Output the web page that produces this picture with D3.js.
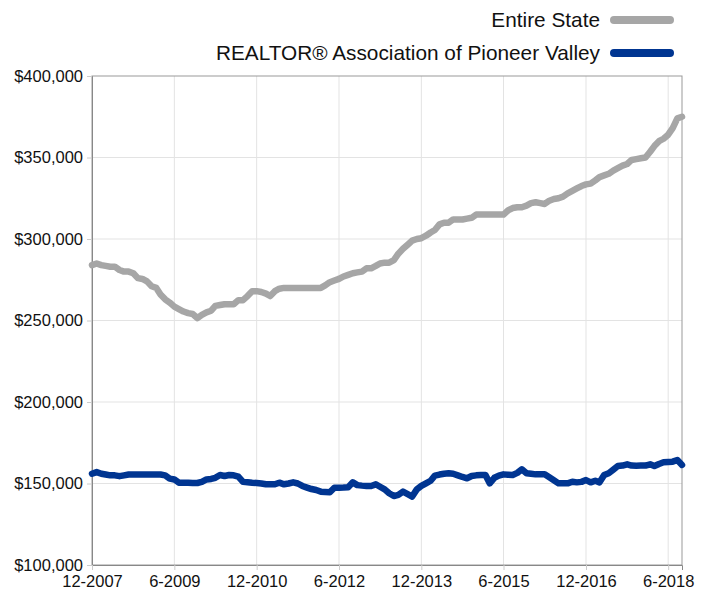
<!DOCTYPE html>
<html>
<head>
<meta charset="utf-8">
<script src="https://cdn.jsdelivr.net/npm/d3@7"></script>
<style>
  body { margin: 0; background: #fff; }
  text { font-family: "Liberation Sans", Arial, Helvetica, sans-serif; fill: #111; }
</style>
</head>
<body>
<svg id="chart" width="708" height="592"></svg>
<script>
// monthly median price, Dec 2007 .. Sep 2018
var seriesNames = ["Entire State", "REALTOR® Association of Pioneer Valley"];
var seriesColors = ["#a6a6a6", "#003591"];

var stateValues = [
  284000, 285000, 284000, 283500, 283000, 283000, 281000, 280000, 280000, 279000,
  276000, 275500, 274000, 271000, 270000, 266000, 263000, 261000, 258500, 257000,
  255500, 254500, 254000, 251500, 253500, 255000, 256000, 259000, 259500, 260000,
  260000, 260000, 262500, 262500, 265000, 268000, 268000, 267500, 266500, 265000,
  268000, 269500, 270000, 270000, 270000, 270000, 270000, 270000, 270000, 270000,
  270000, 271500, 273500, 274500, 275500, 277000, 278000, 279000, 279500, 280000,
  282000, 282000, 283500, 285000, 285500, 285500, 287000, 291000, 294000, 296500,
  299000, 300000, 300500, 302000, 304000, 305500, 309000, 310000, 310000, 312000,
  312000, 312000, 312500, 313000, 315000, 315000, 315000, 315000, 315000, 315000,
  315000, 317500, 319000, 319500, 319500, 320500, 322000, 322500, 322000, 321500,
  323500, 324500, 325000, 326000, 328000, 329500, 331000, 332500, 333500, 334000,
  336000, 338000, 339000, 340000, 342000, 343500, 345000, 346000, 348500, 349000,
  349500, 350000, 353500, 357000, 360000, 361500, 364000, 368000, 374000, 375000
];

var pioneerValues = [
  156000, 157000, 156000, 155500, 155000, 155000, 154500, 155000, 155500, 155500,
  155500, 155500, 155500, 155500, 155500, 155500, 155000, 153000, 152500, 150500,
  150500, 150500, 150300, 150300, 151000, 152500, 152800, 153500, 155200, 154600,
  155200, 155000, 154200, 151000, 150800, 150500, 150300, 150000, 149500, 149500,
  149500, 150500, 149500, 150000, 150700, 150000, 148500, 147500, 146600, 146000,
  145000, 144800, 144600, 147400, 147400, 147500, 147700, 150700, 149000, 148700,
  148500, 148500, 149500, 148000, 146400, 144000, 142300, 143000, 145000, 143500,
  142000, 146400, 148500, 150100, 151700, 154800, 155500, 156000, 156300, 156000,
  155000, 154000, 153200, 154600, 155000, 155200, 155200, 150100, 153500, 154800,
  155600, 155400, 155200, 156500, 158700, 156300, 156000, 155600, 155600, 155600,
  153800, 152000, 150100, 150100, 150100, 151100, 150700, 151000, 152100, 150700,
  151700, 150700, 155200, 156300, 158500, 160700, 161000, 161800, 161000, 160900,
  161000, 161000, 161800, 160700, 162000, 163000, 163200, 163400, 164400, 161400
];

var tickLabels = ["12-2007", "6-2009", "12-2010", "6-2012", "12-2013", "6-2015", "12-2016", "6-2018"];
var yTicks = [100000, 150000, 200000, 250000, 300000, 350000, 400000];

var margin = {left: 92, right: 26, top: 76, bottom: 27};
var width = 708, height = 592;

var svg = d3.select("#chart");

var startMonth = new Date(2007, 11, 1);
var months = d3.timeMonth.range(startMonth, d3.timeMonth.offset(startMonth, stateValues.length));
var tickDates = tickLabels.map(function(s) {
    var p = s.split("-");
    return new Date(+p[1], +p[0] - 1, 1);
});

var x = d3.scaleTime()
    .domain([months[0], months[months.length - 1]])
    .range([margin.left, width - margin.right]);
var y = d3.scaleLinear()
    .domain([100000, 400000])
    .range([height - margin.bottom, margin.top]);

// grid
svg.append("g").selectAll("line.vgrid")
    .data(tickDates.slice(1))
    .enter().append("line")
    .attr("x1", function(d) { return x(d); })
    .attr("x2", function(d) { return x(d); })
    .attr("y1", y(400000)).attr("y2", y(100000))
    .attr("stroke", "#e3e3e3").attr("stroke-width", 1);
svg.append("g").selectAll("line.hgrid")
    .data(yTicks.slice(1, -1))
    .enter().append("line")
    .attr("x1", x.range()[0]).attr("x2", x.range()[1])
    .attr("y1", function(d) { return y(d); })
    .attr("y2", function(d) { return y(d); })
    .attr("stroke", "#e3e3e3").attr("stroke-width", 1);

// frame
svg.append("rect")
    .attr("x", x.range()[0]).attr("y", y(400000))
    .attr("width", x.range()[1] - x.range()[0])
    .attr("height", y(100000) - y(400000))
    .attr("fill", "none").attr("stroke", "#999").attr("stroke-width", 1);

// axes
var yAxis = d3.axisLeft(y)
    .tickValues(yTicks)
    .tickSize(5)
    .tickPadding(4)
    .tickFormat(d3.format("$,"));
var gy = svg.append("g")
    .attr("transform", "translate(" + x.range()[0] + ",0)")
    .call(yAxis);

var xAxis = d3.axisBottom(x)
    .tickValues(tickDates)
    .tickSize(5)
    .tickPadding(5)
    .tickFormat(function(d, i) { return tickLabels[i]; });
var gx = svg.append("g")
    .attr("transform", "translate(0," + y(100000) + ")")
    .call(xAxis);

[gx, gy].forEach(function(g) {
    g.select(".domain").attr("stroke", "#888");
    g.selectAll(".tick line").attr("stroke", "#ccc");
    g.selectAll(".tick text")
	.attr("font-family", "Liberation Sans, Arial, sans-serif")
	.attr("font-size", 16.5)
	.attr("fill", "#1a1a1a");
});

// lines
var line = d3.line()
    .x(function(d, i) { return x(months[i]); })
    .y(function(d) { return y(d); })
    .curve(d3.curveLinear);

[stateValues, pioneerValues].forEach(function(vals, k) {
    svg.append("path")
	.datum(vals)
	.attr("d", line)
	.attr("fill", "none")
	.attr("stroke", seriesColors[k])
	.attr("stroke-width", 6.5)
	.attr("stroke-linejoin", "round")
	.attr("stroke-linecap", "round");
});

// legend
var legend = svg.append("g").selectAll("g")
    .data(seriesNames)
    .enter().append("g")
    .attr("transform", function(d, i) { return "translate(0," + (20 + i * 33) + ")"; });
legend.append("text")
    .attr("x", 600)
    .attr("dy", "0.35em")
    .attr("text-anchor", "end")
    .attr("font-size", 20.8)
    .attr("fill", "#1a1a1a")
    .text(function(d) { return d; });
legend.append("line")
    .attr("x1", 614).attr("x2", 670)
    .attr("y1", 0).attr("y2", 0)
    .attr("stroke", function(d, i) { return seriesColors[i]; })
    .attr("stroke-width", 8)
    .attr("stroke-linecap", "round");
</script>
</body>
</html>
